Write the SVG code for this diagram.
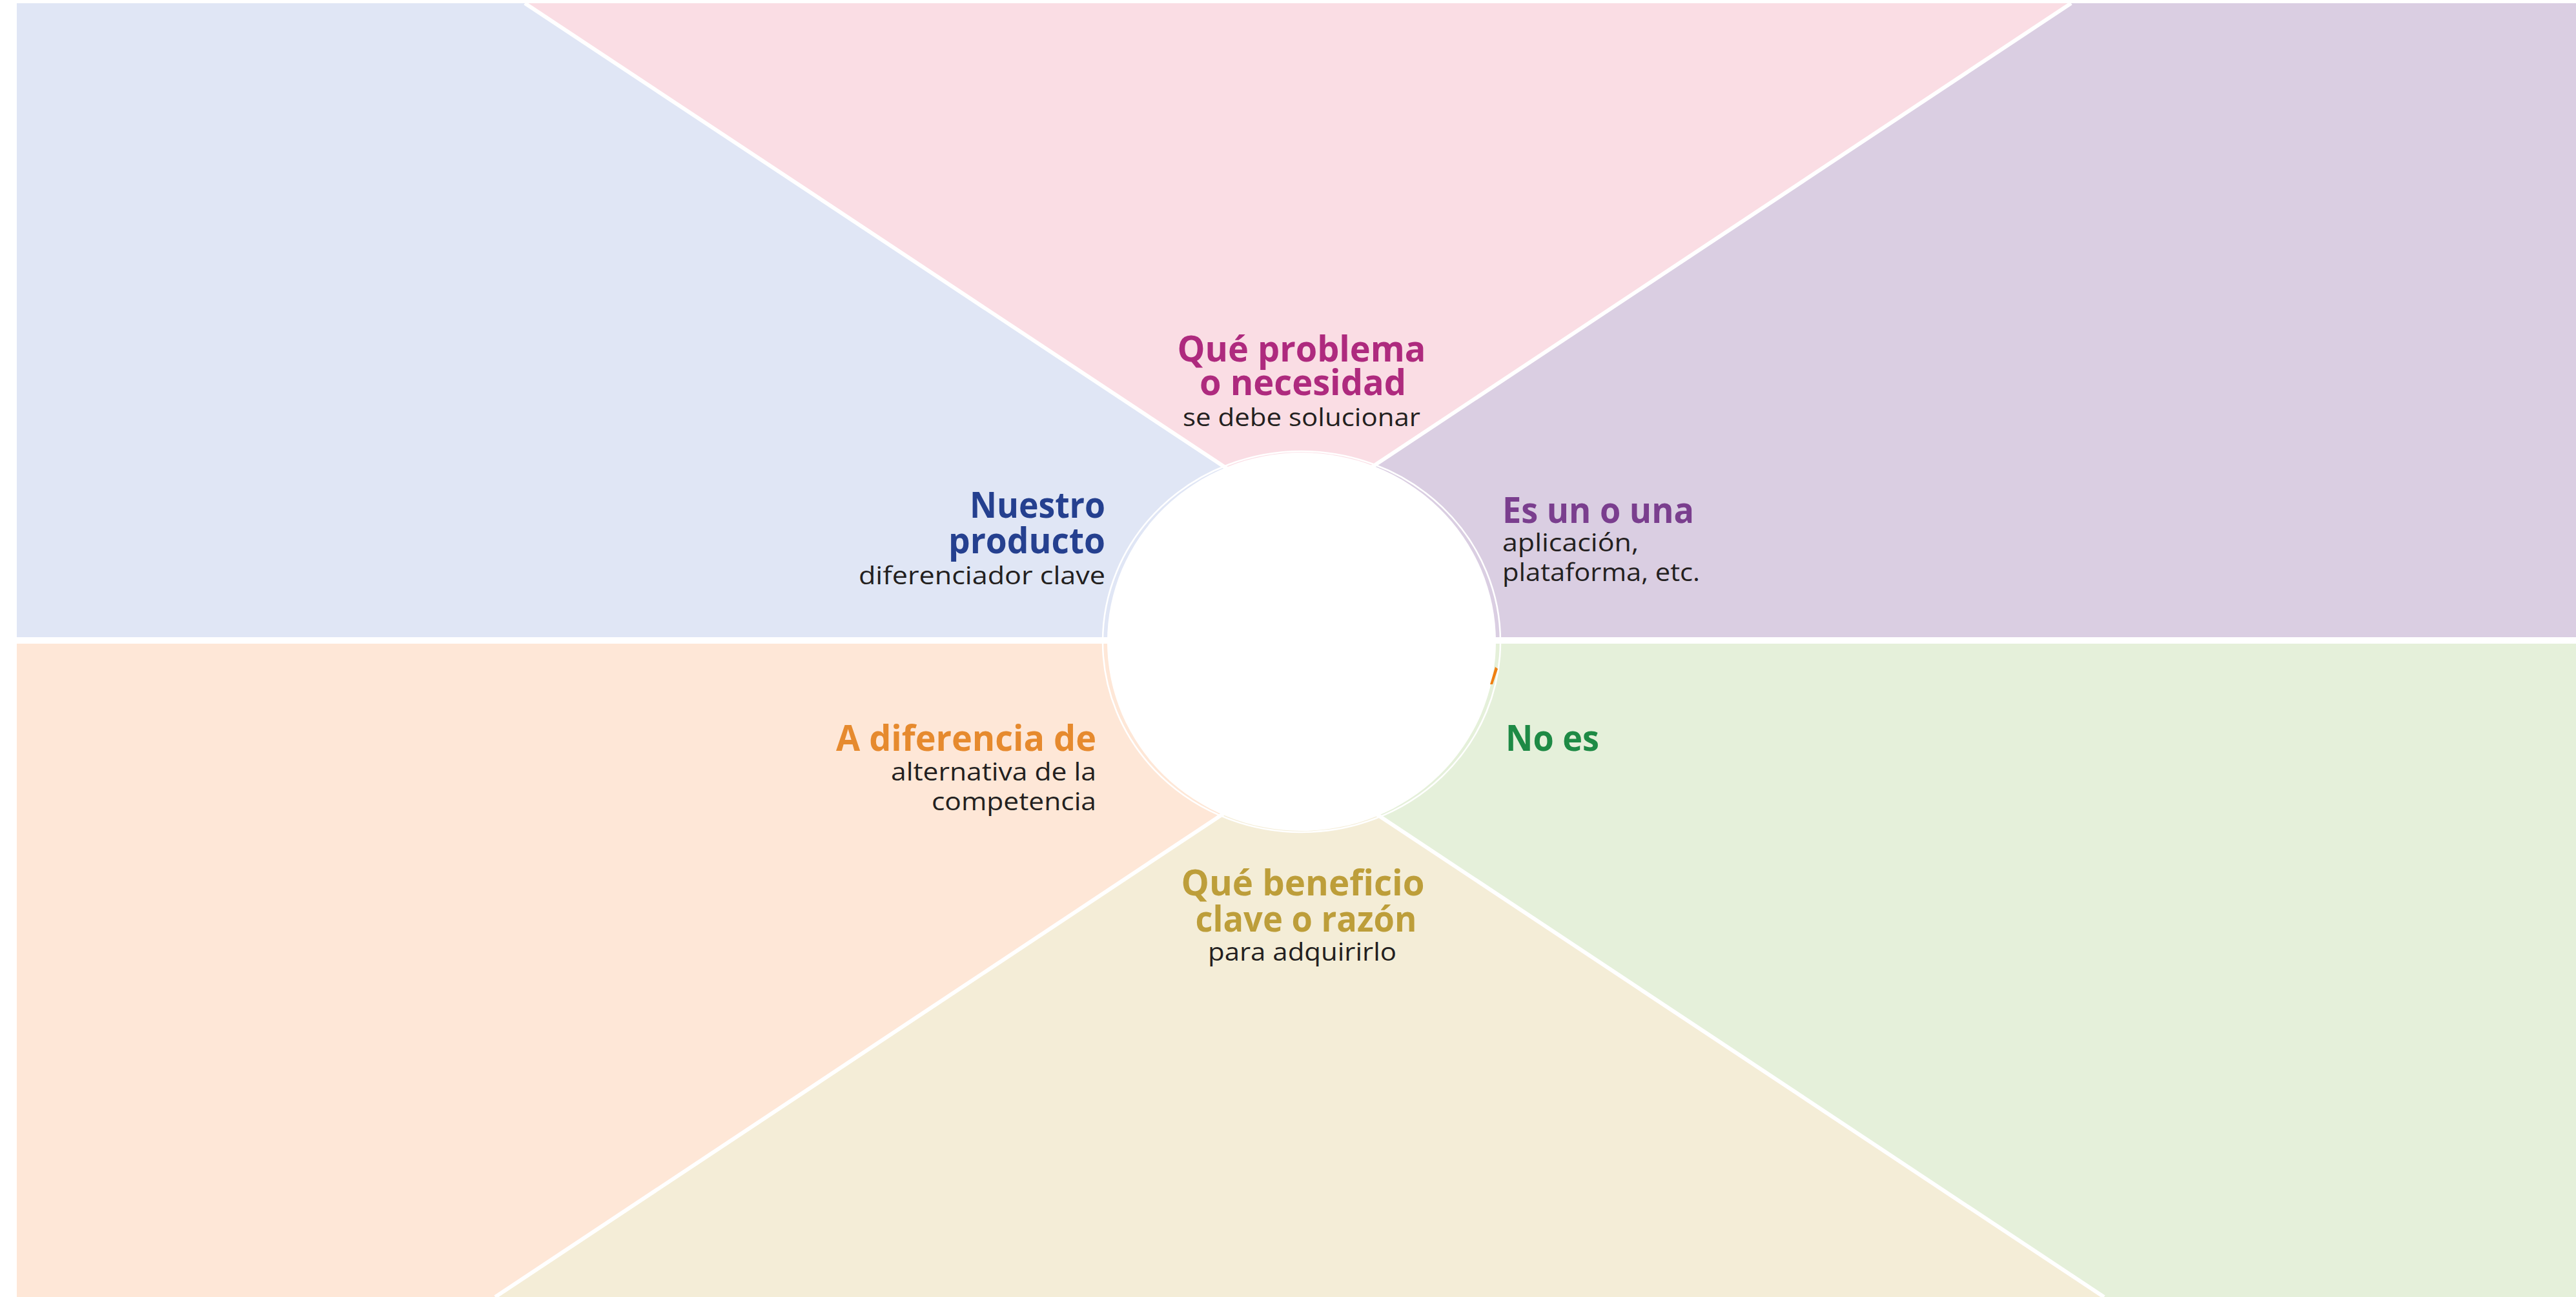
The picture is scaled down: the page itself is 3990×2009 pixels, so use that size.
<svg xmlns="http://www.w3.org/2000/svg" width="3990" height="2009" viewBox="0 0 3990 2009">
  <style>
    .head { font-family: "Open Sans", "Noto Sans", "Liberation Sans", sans-serif; font-weight: 700; font-size: 55px; }
    .sub  { font-family: "Open Sans", "Noto Sans", "Liberation Sans", sans-serif; font-weight: 400; font-size: 39px; fill: #231F20; }
    .divider { stroke: #FFFFFF; stroke-width: 6; stroke-linecap: butt; fill: none; }
  </style>

  <!-- page -->
  <rect x="0" y="0" width="3990" height="2009" fill="#FFFFFF"/>

  <!-- six coloured sectors -->
  <g id="sectors">
    <rect x="26" y="5" width="1990" height="987" fill="#E0E6F5"/>
    <rect x="2012" y="5" width="1978" height="987" fill="#DACEE2"/>
    <rect x="26" y="992" width="1990" height="1017" fill="#FEE7D7"/>
    <rect x="2012" y="992" width="1978" height="1017" fill="#E5F0DA"/>
    <polygon points="813,5 3208,5 2011,799" fill="#FADDE4"/>
    <polygon points="767,2009 3259,2009 2013,1182" fill="#F4EDD7"/>
  </g>

  <!-- white dividing lines -->
  <g id="connectors">
    <line class="divider" x1="26" y1="992" x2="3990" y2="992" style="stroke-width:10"/>
    <line class="divider" x1="813" y1="5" x2="2011" y2="799"/>
    <line class="divider" x1="3208" y1="5" x2="2011" y2="799"/>
    <line class="divider" x1="767" y1="2009" x2="2013" y2="1182"/>
    <line class="divider" x1="3259" y1="2009" x2="2013" y2="1182"/>
  </g>

  <!-- central blank disc -->
  <g id="center">
    <ellipse cx="2016" cy="994" rx="301" ry="293" fill="#FFFFFF"/>
    <ellipse cx="2016" cy="994" rx="308" ry="295" fill="none" stroke="#FFFFFF" stroke-width="2.5"/>
    <polygon points="2316,1033 2320,1036 2312,1060 2308,1060" fill="#F07F12"/>
  </g>

  <!-- top: problem -->
  <g id="node-problema">
    <text class="head" x="2016" y="560" text-anchor="middle" fill="#AE2A7E" textLength="385" lengthAdjust="spacingAndGlyphs">Qué problema</text>
    <text class="head" x="2018" y="612" text-anchor="middle" fill="#AE2A7E" textLength="320" lengthAdjust="spacingAndGlyphs">o necesidad</text>
    <text class="sub" x="2016" y="660" text-anchor="middle" textLength="368" lengthAdjust="spacingAndGlyphs">se debe solucionar</text>
  </g>

  <!-- upper left: product -->
  <g id="node-producto">
    <text class="head" x="1712" y="802" text-anchor="end" fill="#25408F" textLength="210" lengthAdjust="spacingAndGlyphs">Nuestro</text>
    <text class="head" x="1712" y="857" text-anchor="end" fill="#25408F" textLength="243" lengthAdjust="spacingAndGlyphs">producto</text>
    <text class="sub" x="1712" y="905" text-anchor="end" textLength="382" lengthAdjust="spacingAndGlyphs">diferenciador clave</text>
  </g>

  <!-- upper right: category -->
  <g id="node-categoria">
    <text class="head" x="2327" y="810" fill="#7A3E8E" textLength="297" lengthAdjust="spacingAndGlyphs">Es un o una</text>
    <text class="sub" x="2327" y="854" textLength="211" lengthAdjust="spacingAndGlyphs">aplicación,</text>
    <text class="sub" x="2327" y="900" textLength="306" lengthAdjust="spacingAndGlyphs">plataforma, etc.</text>
  </g>

  <!-- lower right: what it is not -->
  <g id="node-no-es">
    <text class="head" x="2332" y="1163" fill="#1E8A45" textLength="145" lengthAdjust="spacingAndGlyphs">No es</text>
  </g>

  <!-- lower left: competition -->
  <g id="node-competencia">
    <text class="head" x="1698" y="1163" text-anchor="end" fill="#E68A2E" textLength="403" lengthAdjust="spacingAndGlyphs">A diferencia de</text>
    <text class="sub" x="1698" y="1209" text-anchor="end" textLength="318" lengthAdjust="spacingAndGlyphs">alternativa de la</text>
    <text class="sub" x="1698" y="1255" text-anchor="end" textLength="255" lengthAdjust="spacingAndGlyphs">competencia</text>
  </g>

  <!-- bottom: benefit -->
  <g id="node-beneficio">
    <text class="head" x="2018" y="1387" text-anchor="middle" fill="#BD9E3A" textLength="377" lengthAdjust="spacingAndGlyphs">Qué beneficio</text>
    <text class="head" x="2023" y="1443" text-anchor="middle" fill="#BD9E3A" textLength="343" lengthAdjust="spacingAndGlyphs">clave o razón</text>
    <text class="sub" x="2017" y="1488" text-anchor="middle" textLength="292" lengthAdjust="spacingAndGlyphs">para adquirirlo</text>
  </g>
</svg>
